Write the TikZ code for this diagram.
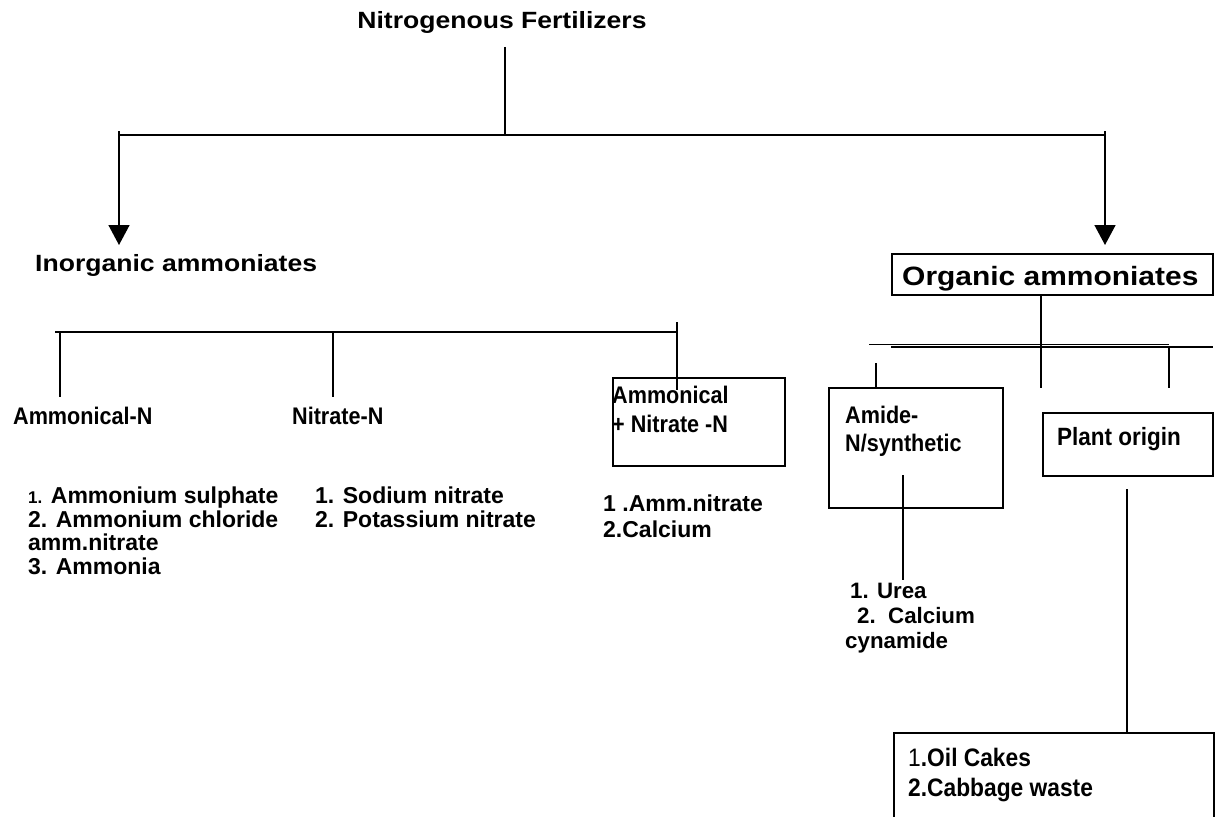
\documentclass[tikz,border=0pt]{standalone}
\usepackage{fontspec}
\setmainfont{Liberation Sans}
\newfontfamily\narrowfont[FakeStretch=0.9]{Liberation Sans}
\newfontfamily\widefont[FakeStretch=1.13]{Liberation Sans}
\usetikzlibrary{arrows.meta}

\tikzset{
  lbl/.style={inner sep=0pt, anchor=base west, align=left, font=\bfseries\fontsize{23}{23.4}\selectfont},
  nlbl/.style={lbl, font=\narrowfont\bfseries\fontsize{24}{29}\selectfont},
  wlbl/.style={lbl, font=\widefont\bfseries\fontsize{23.5}{27}\selectfont},
  box/.style={draw, line width=1.8pt, inner sep=0pt, anchor=north west},
  ln/.style={line width=1.5pt},
  arr/.style={ln, -{Triangle[width=21pt,length=20pt]}}
}

\begin{document}
\begin{tikzpicture}[x=1pt,y=-1pt]
\useasboundingbox (0,0) rectangle (1222,816);

% top level
\node[wlbl, anchor=base] (nf) at (502,29) {Nitrogenous Fertilizers};
\coordinate (nfstem) at (505,47);
\coordinate (topmid) at (505,135);
\coordinate (topl) at (119,135);
\coordinate (topr) at (1105,135);
\coordinate (topltick) at (119,131);
\coordinate (toprtick) at (1105,131);
\coordinate (inorgtip) at (119,245);
\coordinate (orgtip) at (1105,245);
\draw[ln] (nfstem) -- (topmid);
\draw[ln] (topl) -- (topr);
\draw[arr] (topltick) -- (inorgtip);
\draw[arr] (toprtick) -- (orgtip);

\node[wlbl] (inorg) at (35,271) {Inorganic ammoniates};
\node[box, minimum width=321, minimum height=41] (orgbox) at (891,253) {};
\node[wlbl, font=\widefont\bfseries\fontsize{26.5}{30}\selectfont] (org) at (902,285) {Organic ammoniates};

% inorganic branch (multi-line nodes sit on their last line)
\coordinate (ibarl) at (55,332);
\coordinate (ibarr) at (677,332);
\coordinate (ij1) at (60,332);
\coordinate (ij2) at (333,332);
\coordinate (ij3) at (677,322);
\coordinate (ie1) at (60,397);
\coordinate (ie2) at (333,397);
\coordinate (ie3) at (677,390);
\draw[ln] (ibarl) -- (ibarr);
\draw[ln] (ij1) -- (ie1);
\draw[ln] (ij2) -- (ie2);
\draw[ln] (ij3) -- (ie3);

\node[nlbl] (amn) at (13,424) {Ammonical-N};
\node[nlbl] (nitn) at (292,424) {Nitrate-N};
\node[box, minimum width=172, minimum height=88] (anbox) at (612,377) {};
\node[nlbl] (ann) at (612,432) {Ammonical\\+ Nitrate -N};

\node[lbl] (list1) at (28,574) {{\fontsize{17}{23.4}\selectfont 1.} Ammonium sulphate\\2. Ammonium chloride\\amm.nitrate\\3. Ammonia};
\node[lbl] (list2) at (315,527) {1. Sodium nitrate\\2. Potassium nitrate};
\node[lbl, font=\bfseries\fontsize{23}{26}\selectfont] (list3) at (603,537) {1 .Amm.nitrate\\2.Calcium};

% organic branch
\coordinate (ostem) at (1041,294);
\coordinate (obar1l) at (869,344);
\coordinate (obar1r) at (1169,344);
\coordinate (obar2l) at (891,347);
\coordinate (obar2r) at (1213,347);
\coordinate (oe2) at (1041,388);
\coordinate (oj3) at (1169,347);
\coordinate (oe3) at (1169,388);
\coordinate (oj1) at (876,363);
\draw[ln] (ostem) -- (oe2);
\draw[line width=1pt] (obar1l) -- (obar1r);
\draw[line width=2pt] (obar2l) -- (obar2r);
\draw[ln] (oj3) -- (oe3);

\node[box, minimum width=174, minimum height=120] (amidebox) at (828,387) {};
\draw[ln] (oj1) -- (oj1 |- amidebox.north);
\node[nlbl, font=\narrowfont\bfseries\fontsize{24}{28}\selectfont] (amide) at (845,451) {Amide-\\N/synthetic};
\coordinate (ustart) at (903,475);
\coordinate (uend) at (903,580);
\draw[ln] (ustart) -- (uend);
\node[lbl, font=\bfseries\fontsize{22.3}{25}\selectfont] (urea) at (845,648) {\hspace*{5pt}1. Urea\\\hspace*{12pt}2.\ \ Calcium\\cynamide};

\node[box, minimum width=170, minimum height=63] (plantbox) at (1042,412) {};
\node[nlbl, font=\narrowfont\bfseries\fontsize{25}{29}\selectfont] (plant) at (1057,445) {Plant origin};
\coordinate (pstart) at (1127,489);
\node[box, minimum width=320, minimum height=100] (oilbox) at (893,732) {};
\draw[ln] (pstart) -- (pstart |- oilbox.north);
\node[nlbl, font=\narrowfont\bfseries\fontsize{25.3}{30}\selectfont] (oil) at (908,796) {\textmd{1}.Oil Cakes\\2.Cabbage waste};
\end{tikzpicture}
\end{document}
